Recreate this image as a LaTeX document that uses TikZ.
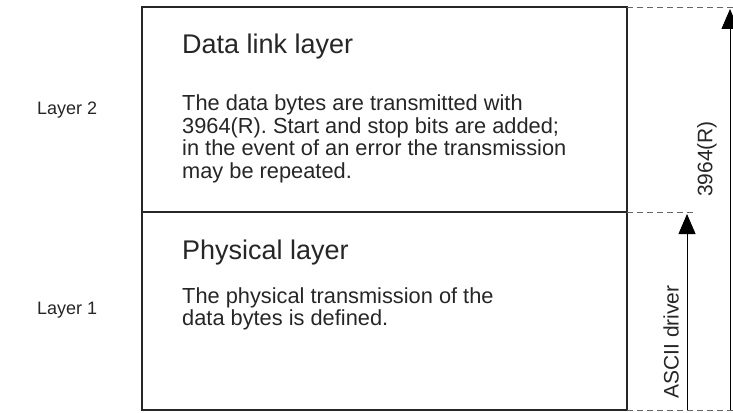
\documentclass[tikz,border=0pt]{standalone}
\usepackage{fontspec}
\setmainfont{Liberation Sans}
\usetikzlibrary{arrows.meta}
\begin{document}
\begin{tikzpicture}[x=1pt,y=-1pt,
  frame/.style={draw=black!85, line width=1.2pt},
  guide/.style={draw=black!60, dash pattern=on 6pt off 4pt, line width=0.7pt},
  uparrow/.style={draw=black, line width=0.9pt, -{Triangle[length=20pt,width=17pt]}},
  title/.style={anchor=base west, font=\fontsize{27}{30}\selectfont, text=black!85, inner sep=0pt},
  body/.style={anchor=north west, align=left, font=\fontsize{21.8}{22.5}\selectfont, text=black!85, inner sep=0pt},
  side/.style={anchor=base west, font=\fontsize{18}{20}\selectfont, text=black!85, inner sep=0pt},
  vlabel/.style={rotate=90, font=\fontsize{21}{24}\selectfont, text=black!85, inner sep=0pt}]
  \useasboundingbox (0,0) rectangle (733,412);
  % layer boxes
  \draw[frame] (142,7) rectangle (627,410);
  \draw[frame] (142,212) -- (627,212);
  % guide lines to the right
  \coordinate (gtl) at (627,7);   \coordinate (gtr) at (733,7);
  \coordinate (gml) at (627,212); \coordinate (gmr) at (695,212);
  \coordinate (gbl) at (627,410); \coordinate (gbr) at (733,410);
  \draw[guide] (gtl) -- (gtr);
  \draw[guide] (gml) -- (gmr);
  \draw[guide] (gbl) -- (gbr);
  % arrows
  \coordinate (a1s) at (687,410); \coordinate (a1e) at (687,214);
  \coordinate (a2s) at (730,410); \coordinate (a2e) at (730,9);
  \draw[uparrow] (a1s) -- (a1e);
  \draw[uparrow] (a2s) -- (a2e);
  \node[vlabel] (ascii) at (671,342) {ASCII driver};
  \node[vlabel] (r3964) at (707,159) {3964(R)};
  % texts
  \node[title] (t2) at (182,54) {Data link layer};
  \node[body] (b2) at (182,95) {The data bytes are transmitted with\\3964(R). Start and stop bits are added;\\in the event of an error the transmission\\may be repeated.};
  \node[title] (t1) at (182,259) {Physical layer};
  \node[body] (b1) at (182,287) {The physical transmission of the\\data bytes is defined.};
  \node[side] (l2) at (37,114) {Layer 2};
  \node[side] (l1) at (37,314) {Layer 1};
\end{tikzpicture}
\end{document}
